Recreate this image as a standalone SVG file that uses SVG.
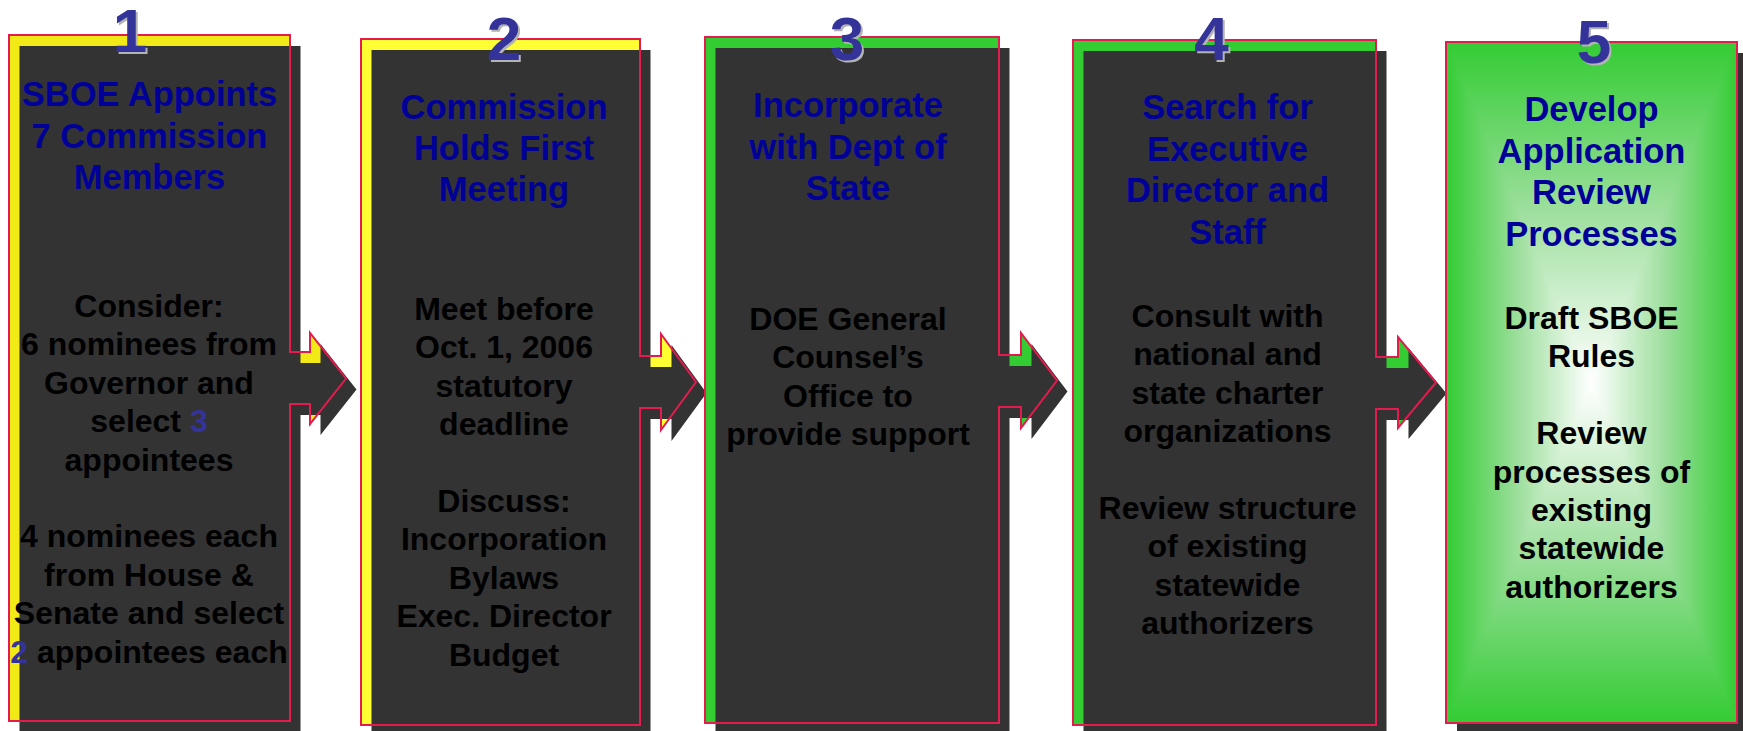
<svg xmlns="http://www.w3.org/2000/svg" width="1743" height="731" viewBox="0 0 1743 731">
<style>
.sh{fill:#333333}
.ol{fill:none;stroke:#E31B4F;stroke-width:2}
.num{font-family:"Liberation Sans",Arial,sans-serif;font-weight:bold;font-size:62px;text-anchor:middle;fill:#333399}
.nums{font-family:"Liberation Sans",Arial,sans-serif;font-weight:bold;font-size:62px;text-anchor:middle;fill:#B3B3B3}
.ttl{font-family:"Liberation Sans",Arial,sans-serif;font-weight:bold;font-size:34.5px;text-anchor:middle;fill:#000099}
.body{font-family:"Liberation Sans",Arial,sans-serif;font-weight:bold;font-size:32px;text-anchor:middle;fill:#000000}
.hl{fill:#333399}
</style>
<defs>
<linearGradient id="gt" gradientUnits="userSpaceOnUse" x1="0" y1="42" x2="0" y2="382.5"><stop offset="0" stop-color="#33CC33"/><stop offset="0.5" stop-color="#9EDF9E"/><stop offset="1" stop-color="#FFFFFF"/></linearGradient>
<linearGradient id="gb" gradientUnits="userSpaceOnUse" x1="0" y1="723" x2="0" y2="382.5"><stop offset="0" stop-color="#33CC33"/><stop offset="0.5" stop-color="#9EDF9E"/><stop offset="1" stop-color="#FFFFFF"/></linearGradient>
<linearGradient id="gl" gradientUnits="userSpaceOnUse" x1="1446" y1="0" x2="1591.5" y2="0"><stop offset="0" stop-color="#33CC33"/><stop offset="0.5" stop-color="#9EDF9E"/><stop offset="1" stop-color="#FFFFFF"/></linearGradient>
<linearGradient id="gr" gradientUnits="userSpaceOnUse" x1="1737" y1="0" x2="1591.5" y2="0"><stop offset="0" stop-color="#33CC33"/><stop offset="0.5" stop-color="#9EDF9E"/><stop offset="1" stop-color="#FFFFFF"/></linearGradient>
<radialGradient id="gbase" cx="0.5" cy="0.5" r="0.5"><stop offset="0" stop-color="#FFFFFF"/><stop offset="0.5" stop-color="#9EDF9E"/><stop offset="1" stop-color="#33CC33"/></radialGradient>
</defs>
<rect width="1743" height="731" fill="#FFFFFF"/>

<g id="connectors"/>

<g id="step1">
<path id="s1" d="M9,35 H290 V352 H310 V333 L346,378.5 L310,424 V404 H290 V721 H9 Z" fill="#F2EA16"/>
<path d="M9,35 H290 V352 H310 V333 L346,378.5 L310,424 V404 H290 V721 H9 Z" class="sh" transform="translate(10.5,11)"/>
<path d="M9,35 H290 V352 H310 V333 L346,378.5 L310,424 V404 H290 V721 H9 Z" class="ol"/>
<text class="nums" x="132" y="54">1</text>
<text class="num" x="130" y="52">1</text>
<text class="ttl"><tspan x="149.5" y="106">SBOE Appoints</tspan><tspan x="149.5" y="148">7 Commission</tspan><tspan x="149.5" y="189">Members</tspan></text>
<text class="body"><tspan x="149" y="317">Consider:</tspan><tspan x="149" y="355.4">6 nominees from</tspan><tspan x="149" y="393.8">Governor and</tspan><tspan x="149" y="432.2">select <tspan class="hl">3</tspan></tspan><tspan x="149" y="470.6">appointees</tspan><tspan x="149" y="547.4">4 nominees each</tspan><tspan x="149" y="585.8">from House &amp;</tspan><tspan x="149" y="624.2">Senate and select</tspan><tspan x="149" y="662.6"><tspan class="hl">2</tspan> appointees each</tspan></text>
</g>

<g id="step2">
<path d="M361,39 H640 V356 H661 V334 L696,382 L661,430 V408 H640 V725 H361 Z" fill="#FFFF33"/>
<path d="M361,39 H640 V356 H661 V334 L696,382 L661,430 V408 H640 V725 H361 Z" class="sh" transform="translate(10.5,11)"/>
<path d="M361,39 H640 V356 H661 V334 L696,382 L661,430 V408 H640 V725 H361 Z" class="ol"/>
<text class="nums" x="506" y="62">2</text>
<text class="num" x="504" y="60">2</text>
<text class="ttl"><tspan x="504" y="119">Commission</tspan><tspan x="504" y="160">Holds First</tspan><tspan x="504" y="201">Meeting</tspan></text>
<text class="body"><tspan x="504" y="320">Meet before</tspan><tspan x="504" y="358.4">Oct. 1, 2006</tspan><tspan x="504" y="396.8">statutory</tspan><tspan x="504" y="435.2">deadline</tspan><tspan x="504" y="512">Discuss:</tspan><tspan x="504" y="550.4">Incorporation</tspan><tspan x="504" y="588.8">Bylaws</tspan><tspan x="504" y="627.2">Exec. Director</tspan><tspan x="504" y="665.6">Budget</tspan></text>
</g>

<g id="step3">
<path d="M705,37 H999 V355 H1021 V333 L1057,380.5 L1021,428 V407 H999 V723 H705 Z" fill="#33CC33"/>
<path d="M705,37 H999 V355 H1021 V333 L1057,380.5 L1021,428 V407 H999 V723 H705 Z" class="sh" transform="translate(10.5,11)"/>
<path d="M705,37 H999 V355 H1021 V333 L1057,380.5 L1021,428 V407 H999 V723 H705 Z" class="ol"/>
<text class="nums" x="849" y="62">3</text>
<text class="num" x="847" y="60">3</text>
<text class="ttl"><tspan x="848" y="117">Incorporate</tspan><tspan x="848" y="159">with Dept of</tspan><tspan x="848" y="200">State</tspan></text>
<text class="body"><tspan x="848" y="330">DOE General</tspan><tspan x="848" y="368.4">Counsel’s</tspan><tspan x="848" y="406.8">Office to</tspan><tspan x="848" y="445.2">provide support</tspan></text>
</g>

<g id="step4">
<path d="M1073,40 H1376 V357 H1398 V337 L1436,382.5 L1398,428 V409 H1376 V725 H1073 Z" fill="#33CC33"/>
<path d="M1073,40 H1376 V357 H1398 V337 L1436,382.5 L1398,428 V409 H1376 V725 H1073 Z" class="sh" transform="translate(10.5,11)"/>
<path d="M1073,40 H1376 V357 H1398 V337 L1436,382.5 L1398,428 V409 H1376 V725 H1073 Z" class="ol"/>
<text class="nums" x="1213.5" y="62">4</text>
<text class="num" x="1211.5" y="60">4</text>
<text class="ttl"><tspan x="1227.5" y="119">Search for</tspan><tspan x="1227.5" y="160.5">Executive</tspan><tspan x="1227.5" y="202">Director and</tspan><tspan x="1227.5" y="243.5">Staff</tspan></text>
<text class="body"><tspan x="1227.5" y="327">Consult with</tspan><tspan x="1227.5" y="365.4">national and</tspan><tspan x="1227.5" y="403.8">state charter</tspan><tspan x="1227.5" y="442.2">organizations</tspan><tspan x="1227.5" y="519">Review structure</tspan><tspan x="1227.5" y="557.4">of existing</tspan><tspan x="1227.5" y="595.8">statewide</tspan><tspan x="1227.5" y="634.2">authorizers</tspan></text>
</g>

<g id="step5">
<rect x="1457" y="53" width="300" height="690" class="sh"/>
<rect x="1446" y="42" width="291" height="681" fill="url(#gbase)"/>
<polygon points="1446,42 1737,42 1591.5,382.5" fill="url(#gt)" stroke="url(#gt)" stroke-width="0.6"/>
<polygon points="1446,723 1737,723 1591.5,382.5" fill="url(#gb)" stroke="url(#gb)" stroke-width="0.6"/>
<polygon points="1446,42 1446,723 1591.5,382.5" fill="url(#gl)" stroke="url(#gl)" stroke-width="0.6"/>
<polygon points="1737,42 1737,723 1591.5,382.5" fill="url(#gr)" stroke="url(#gr)" stroke-width="0.6"/>
<rect x="1446" y="42" width="291" height="681" class="ol"/>
<text class="nums" x="1596" y="65">5</text>
<text class="num" x="1594" y="63">5</text>
<text class="ttl"><tspan x="1591.5" y="121">Develop</tspan><tspan x="1591.5" y="162.5">Application</tspan><tspan x="1591.5" y="204">Review</tspan><tspan x="1591.5" y="245.5">Processes</tspan></text>
<text class="body"><tspan x="1591.5" y="329">Draft SBOE</tspan><tspan x="1591.5" y="367.4">Rules</tspan><tspan x="1591.5" y="444.2">Review</tspan><tspan x="1591.5" y="482.6">processes of</tspan><tspan x="1591.5" y="521">existing</tspan><tspan x="1591.5" y="559.4">statewide</tspan><tspan x="1591.5" y="597.8">authorizers</tspan></text>
</g>
</svg>
